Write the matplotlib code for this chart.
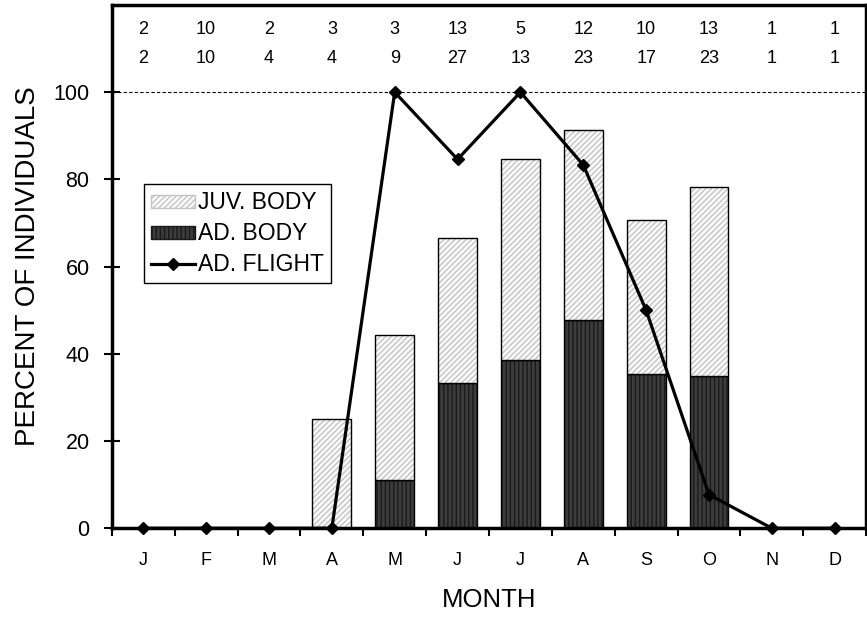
import matplotlib.pyplot as plt
import numpy as np
from matplotlib.patches import Patch
from matplotlib.lines import Line2D

plt.rcParams['font.family'] = ['Liberation Sans', 'DejaVu Sans']

months = ['J', 'F', 'M', 'A', 'M', 'J', 'J', 'A', 'S', 'O', 'N', 'D']
# percent of individuals
ad_body = [0, 0, 0, 0, 11.1, 33.3, 38.5, 47.8, 35.3, 34.8, 0, 0]
juv_body = [0, 0, 0, 25.0, 33.3, 33.3, 46.2, 43.5, 35.3, 43.5, 0, 0]
ad_flight = [0, 0, 0, 0, 100, 84.6, 100, 83.3, 50, 7.7, 0, 0]
# sample sizes shown above the plot
n_flight = [2, 10, 2, 3, 3, 13, 5, 12, 10, 13, 1, 1]
n_body = [2, 10, 4, 4, 9, 27, 13, 23, 17, 23, 1, 1]

x = np.arange(len(months))
width = 0.62

fig = plt.figure(figsize=(8.67, 6.20), dpi=100)
ax = fig.add_axes([0.129, 0.148, 0.870, 0.844])

# dark adult body bars
ax.bar(x, ad_body, width, color='#3c3c3c', edgecolor='#1a1a1a', hatch='||||', linewidth=0)
ax.bar(x, ad_body, width, fill=False, edgecolor='black', linewidth=1.0)
# light juvenile bars stacked on top
ax.bar(x, juv_body, width, bottom=ad_body, color='#fafafa', edgecolor='#c4c4c4', hatch='//////', linewidth=0)
ax.bar(x, juv_body, width, bottom=ad_body, fill=False, edgecolor='black', linewidth=1.0)

ax.plot(x, ad_flight, color='black', lw=2.3, marker='D', ms=6, zorder=5, clip_on=False)

ax.axhline(100, color='black', ls='--', lw=0.8, dashes=(3, 2))

for i in x:
    ax.text(i, 114.3, str(n_flight[i]), ha='center', va='center', fontsize=13)
    ax.text(i, 107.8, str(n_body[i]), ha='center', va='center', fontsize=13)

ax.set_xlim(-0.5, 11.5)
ax.set_ylim(0, 120)
ax.set_yticks([0, 20, 40, 60, 80, 100])
ax.tick_params(axis='y', labelsize=15.5, direction='inout', length=12, width=1.5, pad=10)
ax.set_xticks(x)
ax.set_xticklabels(months)
ax.tick_params(axis='x', which='major', length=0, pad=17, labelsize=13)
ax.set_xticks(np.arange(-0.5, 12, 1), minor=True)
ax.tick_params(axis='x', which='minor', length=6, width=1.5, direction='out')

for s in ax.spines.values():
    s.set_linewidth(2.5)

ax.set_ylabel('PERCENT OF INDIVIDUALS', fontsize=20, labelpad=9)
ax.set_xlabel('MONTH', fontsize=18.5, labelpad=14)

handles = [
    Patch(facecolor='#fafafa', edgecolor='#c4c4c4', hatch='//////'),
    Patch(facecolor='#3c3c3c', edgecolor='#1a1a1a', hatch='||||'),
    Line2D([], [], color='black', lw=2.3, marker='D', ms=6),
]
leg = ax.legend(handles, ['JUV. BODY', 'AD. BODY', 'AD. FLIGHT'], loc='upper left',
                bbox_to_anchor=(0.043, 0.657), fontsize=16.5, fancybox=False,
                edgecolor='black', framealpha=1, handlelength=1.9, handleheight=0.5,
                handletextpad=0.15, borderpad=0.3, borderaxespad=0, labelspacing=0.35)
leg.get_frame().set_linewidth(1.0)

fig.savefig('out.png', dpi=100)
